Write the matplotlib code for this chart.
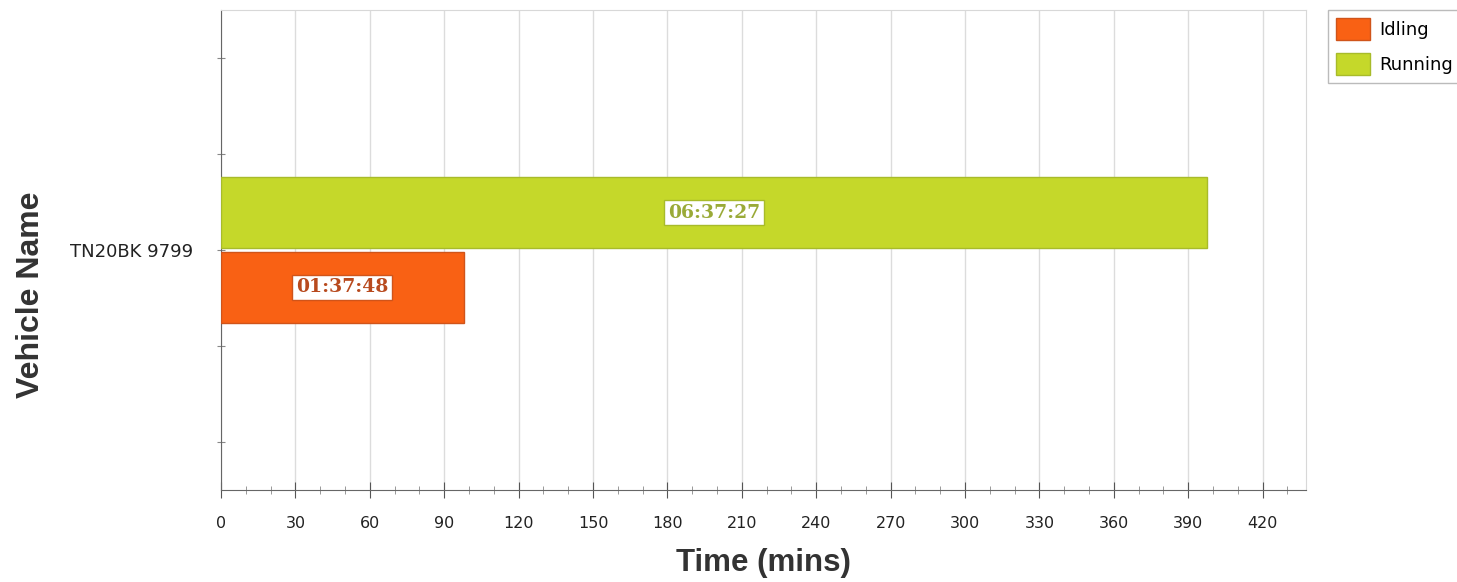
import matplotlib
matplotlib.use("Agg")
import matplotlib.pyplot as plt
from matplotlib import font_manager
import numpy as np

# data
vehicles = ["TN20BK 9799"]
series = ["Idling", "Running"]
idling_mins = [97.8]      # 01:37:48
running_mins = [397.45]   # 06:37:27
idling_lbl = ["01:37:48"]
running_lbl = ["06:37:27"]
x_ticks = list(range(0, 421, 30))

colors = {"Idling": "#F96114", "Running": "#C5D82A"}
edges = {"Idling": "#D0541A", "Running": "#A8BB2A"}
txt_col = {"Idling": "#B84A1E", "Running": "#9AAA38"}

# regular-width Liberation Sans Bold (not Narrow)
title_font = None
for f in font_manager.fontManager.ttflist:
    if f.name == "Liberation Sans" and "narrow" not in f.fname.lower() \
            and f.weight == 700 and f.style == "normal":
        title_font = f.fname
        break

def title_props(size):
    if title_font:
        return font_manager.FontProperties(fname=title_font, size=size)
    return font_manager.FontProperties(family="DejaVu Sans", weight="bold", size=size - 2)

fig = plt.figure(figsize=(14.57, 5.82), dpi=100)
ax = fig.add_axes([221 / 1457, 1 - 490 / 582, 1085 / 1457, 480 / 582])

y = np.arange(len(vehicles))
h = 0.74
off = 0.39
vals = {"Idling": idling_mins, "Running": running_mins}
lbls = {"Idling": idling_lbl, "Running": running_lbl}
ypos = {"Idling": y - off, "Running": y + off}

for s in series:
    ax.barh(ypos[s], vals[s], height=h, color=colors[s], edgecolor=edges[s],
            linewidth=1, label=s, zorder=3)
    for yy, v, t in zip(ypos[s], vals[s], lbls[s]):
        ax.text(v / 2, yy, t, ha="center", va="center", fontsize=13.5,
                fontweight="bold", family="DejaVu Serif", color=txt_col[s],
                zorder=4,
                bbox=dict(boxstyle="square,pad=0.2", fc="white",
                          ec=edges[s], lw=1))

ax.set_xlim(0, 437.5)
ax.set_ylim(-2.5, 2.5)
ax.set_xticks(x_ticks)
ax.set_xticks(np.arange(0, 437, 10), minor=True)
ax.set_yticks([-2, -1, 0, 1, 2])
ax.set_yticklabels(["", "", vehicles[0], "", ""])
ax.tick_params(axis="x", labelsize=11.5, colors="#555555", labelcolor="#222222",
               length=12, direction="inout", pad=13)
ax.tick_params(axis="x", which="minor", length=6, direction="inout",
               colors="#888888")
ax.tick_params(axis="y", labelsize=13, colors="#888888", labelcolor="#222222",
               length=6, direction="inout", pad=17)

ax.grid(axis="x", color="#dcdcdc", lw=1, zorder=0)
for side in ["top", "right"]:
    ax.spines[side].set_color("#d8d8d8")
for side in ["left", "bottom"]:
    ax.spines[side].set_color("#666666")

ax.set_xlabel("Time (mins)", fontproperties=title_props(22.5), color="#333333",
              labelpad=12)
ax.set_ylabel("Vehicle Name", fontproperties=title_props(23), color="#333333",
              va="center")
ax.yaxis.set_label_coords(-0.175, 0.406)

leg = ax.legend(loc="upper left", bbox_to_anchor=(1.02, 1.0), borderaxespad=0,
                fontsize=13, frameon=True, fancybox=False, handlelength=1.9,
                handleheight=1.45, handletextpad=0.5, labelspacing=0.75,
                borderpad=0.45)
leg.get_frame().set_edgecolor("#aaaaaa")
leg.get_frame().set_linewidth(1)

fig.savefig("out.png", dpi=100)
